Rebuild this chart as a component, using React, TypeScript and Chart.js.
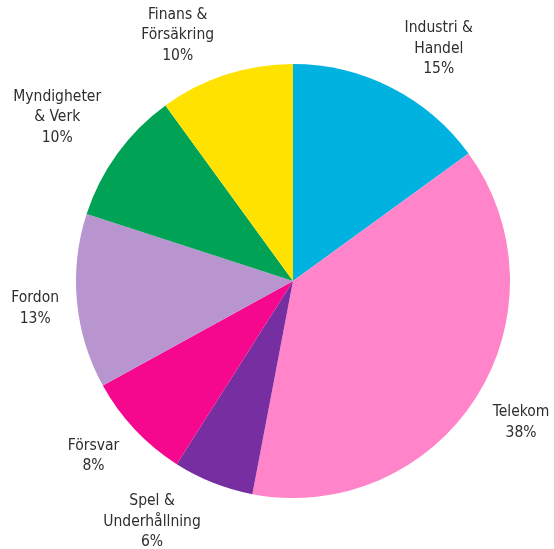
import React, { useEffect, useRef } from "react";
import { Chart, registerables } from "chart.js";

Chart.register(...registerables);

const categories: string[][] = [
  ["Industri &", "Handel"],
  ["Telekom"],
  ["Spel &", "Underhållning"],
  ["Försvar"],
  ["Fordon"],
  ["Myndigheter", "& Verk"],
  ["Finans &", "Försäkring"],
];
const shares: number[] = [15, 38, 6, 8, 13, 10, 10];
const colors: string[] = ["#00b2e0", "#ff84c9", "#762ea0", "#f5088e", "#b995d0", "#00a356", "#ffe200"];

const FONT = "15.5px 'DejaVu Sans Condensed', 'DejaVu Sans', sans-serif";
const LH = 20.5;
const GAP = 9;
const HGAP = 9;

const clamp = (v: number) => Math.max(-1, Math.min(1, v));

const labelPlugin = {
  id: "outerLabels",
  afterDraw(chart: any) {
    const ctx = chart.ctx;
    const meta = chart.getDatasetMeta(0);
    ctx.save();
    ctx.font = FONT;
    ctx.fillStyle = "#2e2e2e";
    ctx.textAlign = "center";
    ctx.textBaseline = "middle";
    meta.data.forEach((arc: any, i: number) => {
      const lines = [...categories[i], shares[i] + "%"];
      const w = Math.max(...lines.map((l) => ctx.measureText(l).width)) / 2;
      const h = (lines.length * LH) / 2;
      const a = (arc.startAngle + arc.endAngle) / 2;
      const ux = Math.cos(a), uy = Math.sin(a);
      const d = arc.outerRadius + GAP;
      const px = arc.x + ux * d;
      const py = arc.y + uy * d;
      const cx = px + (w + HGAP) * clamp(ux / 0.3);
      const cy = py + h * clamp(uy / 0.3);
      lines.forEach((l, k) => {
        ctx.fillText(l, cx, cy + (k - (lines.length - 1) / 2) * LH);
      });
    });
    ctx.restore();
  },
};

export default function App() {
  const ref = useRef<HTMLCanvasElement>(null);
  useEffect(() => {
    document.body.style.margin = "0";
    const chart = new Chart(ref.current!, {
      type: "pie",
      data: {
        labels: categories.map((c) => c.join(" ")),
        datasets: [
          {
            data: shares,
            backgroundColor: colors,
            borderWidth: 0,
          },
        ],
      },
      options: {
        animation: false,
        responsive: false,
        layout: { padding: { left: 76, right: 44, top: 64, bottom: 51 } },
        plugins: { legend: { display: false }, tooltip: { enabled: false } },
      },
      plugins: [labelPlugin],
    });
    return () => chart.destroy();
  }, []);
  return (
    <div style={{ width: 554, height: 549, background: "#fff" }}>
      <canvas ref={ref} width={554} height={549} style={{ width: 554, height: 549 }} />
    </div>
  );
}
